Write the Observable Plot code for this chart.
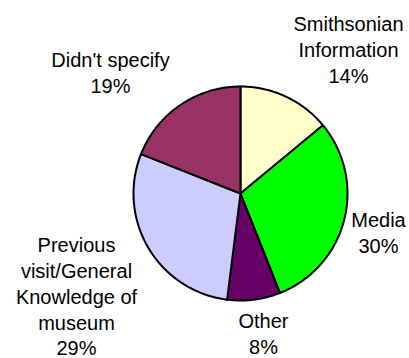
<!DOCTYPE html>
<html>
<head>
<meta charset="utf-8">
<script src="https://cdn.jsdelivr.net/npm/d3@7"></script>
<script src="https://cdn.jsdelivr.net/npm/@observablehq/plot@0.6"></script>
<style>
  html, body { margin: 0; padding: 0; background: #fff; }
  #chart svg { display: block; }
</style>
</head>
<body>
<div id="chart"></div>
<script>
// Data
const categories = ["Smithsonian Information", "Media", "Other", "Previous visit/General Knowledge of museum", "Didn't specify"];
const labels = ["Smithsonian\nInformation", "Media", "Other", "Previous\nvisit/General\nKnowledge of\nmuseum", "Didn't specify"];
const percents = [14, 30, 8, 29, 19];
const colors = ["#FFFFCC", "#00FF00", "#660066", "#CCCCFF", "#993366"];

// Layout (pixels)
const W = 409, H = 358;
const cx = 240, cy = 193, R = 107;
const labelPos = [[348, 48], [378, 231], [263, 332], [76, 295], [110, 71]];

const total = d3.sum(percents);
const slices = [];
let acc = 0;
percents.forEach((v, i) => {
  const a0 = acc / total * 2 * Math.PI;
  acc += v;
  const a1 = acc / total * 2 * Math.PI;
  const n = Math.max(2, Math.ceil((a1 - a0) / (Math.PI / 180)));
  slices.push({key: categories[i], x: cx, y: cy});
  for (let k = 0; k <= n; k++) {
    const a = a0 + (a1 - a0) * k / n;
    slices.push({key: categories[i], x: cx + R * Math.sin(a), y: cy - R * Math.cos(a)});
  }
});

const textData = categories.map((c, i) => ({
  key: c,
  text: labels[i] + "\n" + percents[i] + "%",
  x: labelPos[i][0],
  y: labelPos[i][1]
}));

const chart = Plot.plot({
  width: W,
  height: H,
  margin: 0,
  x: {domain: [0, W], range: [0, W], axis: null},
  y: {domain: [0, H], range: [0, H], axis: null},
  color: {domain: categories, range: colors},
  style: {fontFamily: "Liberation Sans, Arial, sans-serif", background: "#fff"},
  marks: [
    Plot.line(slices, {x: "x", y: "y", z: "key", fill: "key", stroke: "black", strokeWidth: 2, curve: "linear-closed", strokeLinejoin: "round"}),
    Plot.text(textData, {x: "x", y: "y", text: "text", fontSize: 20, lineHeight: 1.29, fill: "black", textAnchor: "middle", lineAnchor: "middle"})
  ]
});
document.getElementById("chart").appendChild(chart);
</script>
</body>
</html>
